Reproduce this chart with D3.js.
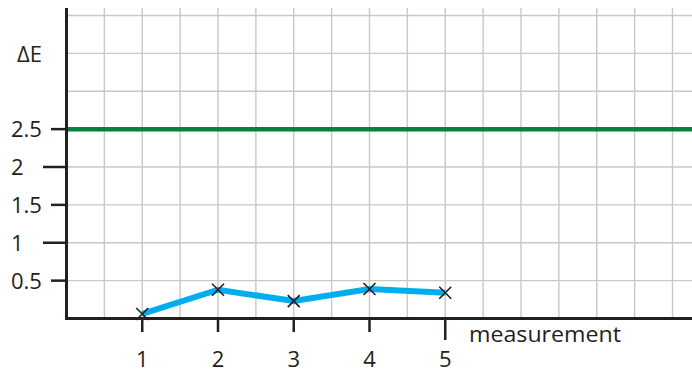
<!DOCTYPE html>
<html>
<head>
<meta charset="utf-8">
<script src="https://cdn.jsdelivr.net/npm/d3@7"></script>
<style>
  html, body { margin: 0; padding: 0; background: #fff; }
  svg { display: block; }
  text { font-family: "Open Sans", "Noto Sans", sans-serif; fill: #231f20; }
</style>
</head>
<body>
<svg id="chart" width="692" height="372"></svg>
<script>
// ---- data ----
const measurements = [1, 2, 3, 4, 5];
const deltaE = [0.06, 0.38, 0.23, 0.39, 0.34];
const threshold = 2.5;
const yTickValues = [0.5, 1, 1.5, 2, 2.5];
const yTickLabels = ["0.5", "1", "1.5", "2", "2.5"];
const xTickValues = [1, 2, 3, 4, 5];
const xTickLabels = ["1", "2", "3", "4", "5"];
const yAxisTitle = "ΔE";
const xAxisTitle = "measurement";

// ---- layout ----
const W = 692, H = 372;
const svg = d3.select("#chart");
const x = d3.scaleLinear().domain([0, 8]).range([66.5, 672.5]);
const y = d3.scaleLinear().domain([0, 4]).range([318.5, 15.5]);
const ink = "#231f20";
const gridColor = "#c8c8c8";
const fs = 22;

// grid
const xGrid = d3.range(0.5, 8.01, 0.5);
const yGrid = d3.range(0.5, 4.01, 0.5);
svg.append("g").selectAll("line.v").data(xGrid).join("line")
  .attr("x1", d => x(d)).attr("x2", d => x(d))
  .attr("y1", 8).attr("y2", y(0))
  .attr("stroke", gridColor).attr("stroke-width", 1.4);
svg.append("g").selectAll("line.h").data(yGrid).join("line")
  .attr("x1", x(0)).attr("x2", W)
  .attr("y1", d => y(d)).attr("y2", d => y(d))
  .attr("stroke", gridColor).attr("stroke-width", 1.4);

// threshold line
svg.append("line")
  .attr("x1", x(0)).attr("x2", W)
  .attr("y1", y(threshold)).attr("y2", y(threshold))
  .attr("stroke", "#00843d").attr("stroke-width", 4.5);

// axes
svg.append("line").attr("x1", x(0)).attr("x2", x(0)).attr("y1", 8).attr("y2", y(0) + 1.5)
  .attr("stroke", ink).attr("stroke-width", 3);
svg.append("line").attr("x1", x(0) - 1.5).attr("x2", W).attr("y1", y(0)).attr("y2", y(0))
  .attr("stroke", ink).attr("stroke-width", 3);

// y ticks and labels
svg.append("g").selectAll("line").data(yTickValues).join("line")
  .attr("x1", d => Number.isInteger(d) ? 43 : 51).attr("x2", x(0))
  .attr("y1", d => y(d)).attr("y2", d => y(d))
  .attr("stroke", ink).attr("stroke-width", 2.5);
svg.append("g").selectAll("text").data(yTickValues).join("text")
  .attr("x", 11).attr("y", d => y(d) + 8)
  .attr("font-size", fs)
  .text((d, i) => yTickLabels[i]);
svg.append("text").attr("x", 17).attr("y", 62).attr("font-size", fs).text(yAxisTitle);

// x ticks and labels
svg.append("g").selectAll("line").data(xTickValues).join("line")
  .attr("x1", d => x(d)).attr("x2", d => x(d))
  .attr("y1", y(0)).attr("y2", d => d === 5 ? 340 : 332)
  .attr("stroke", ink).attr("stroke-width", 2.5);
svg.append("g").selectAll("text").data(xTickValues).join("text")
  .attr("x", d => x(d)).attr("y", 367)
  .attr("text-anchor", "middle").attr("font-size", fs)
  .text((d, i) => xTickLabels[i]);
svg.append("text").attr("x", 469).attr("y", 342).attr("font-size", fs)
  .attr("textLength", 152).attr("lengthAdjust", "spacingAndGlyphs").text(xAxisTitle);

// data line
const pts = measurements.map((m, i) => [m, deltaE[i]]);
svg.append("path").datum(pts)
  .attr("d", d3.line().x(d => x(d[0])).y(d => y(d[1])))
  .attr("fill", "none").attr("stroke", "#00aeef").attr("stroke-width", 6)
  .attr("stroke-linejoin", "miter");

// markers
const s = 6;
const mk = svg.append("g").selectAll("g").data(pts).join("g")
  .attr("transform", d => `translate(${x(d[0])},${y(d[1])})`);
mk.append("path").attr("d", `M${-s},${-s}L${s},${s}M${-s},${s}L${s},${-s}`)
  .attr("stroke", ink).attr("stroke-width", 1.6).attr("fill", "none");
</script>
</body>
</html>
